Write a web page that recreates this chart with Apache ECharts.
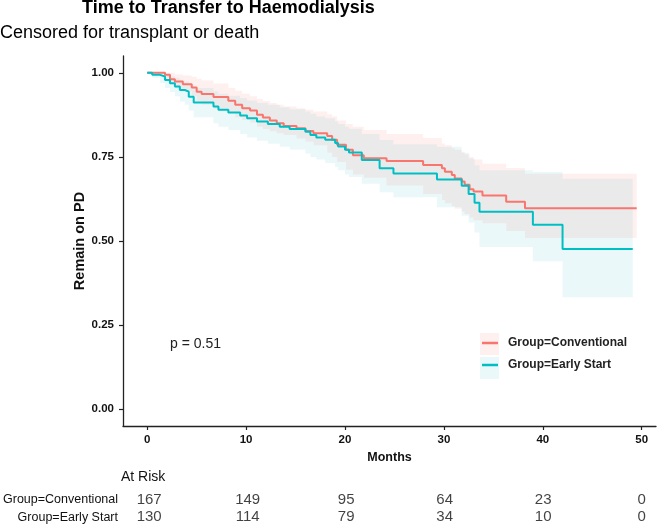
<!DOCTYPE html>
<html><head><meta charset="utf-8">
<script src="https://cdn.jsdelivr.net/npm/echarts@6/dist/echarts.min.js"></script>
<style>html,body{margin:0;padding:0;background:#fff}#c{width:664px;height:526px}</style>
</head><body><div id="c"></div>
<script>
// Conventional group: KM step times, survival, CI lower/upper
const convTime  = [0, 1.8, 2.3, 2.8, 3.6, 4.5, 5.0, 5.5, 6.7, 8.2, 8.9, 9.6, 10.4, 11.1, 11.7, 12.4, 13.1, 13.8, 15.1, 16.0, 16.8, 18.2, 18.7, 19.2, 20.1, 20.8, 21.9, 24.2, 27.9, 29.8, 30.1, 30.8, 31.1, 31.8, 32.1, 32.6, 33.0, 33.9, 36.3, 38.2, 49.5];
const convSurv  = [1, .994, .981, .974, .966, .956, .944, .937, .928, .917, .905, .895, .888, .875, .867, .858, .850, .842, .835, .827, .820, .812, .801, .786, .771, .755, .746, .738, .726, .716, .706, .696, .686, .677, .667, .654, .647, .635, .617, .597, .597];
const convLower = [1, .985, .965, .955, .945, .930, .915, .905, .893, .880, .868, .860, .852, .840, .833, .826, .820, .815, .805, .795, .785, .762, .750, .735, .712, .698, .688, .665, .640, .622, .612, .604, .596, .588, .580, .570, .562, .553, .530, .509, .509];
const convUpper = [1, 1, 1, .995, .992, .988, .982, .977, .968, .955, .947, .938, .930, .922, .916, .910, .905, .900, .895, .890, .885, .877, .870, .858, .848, .840, .830, .818, .806, .790, .785, .776, .771, .765, .758, .750, .742, .730, .717, .700, .700];

// Early Start group
const earlyTime  = [0, 0.5, 1.3, 1.8, 2.3, 2.8, 3.3, 3.8, 4.2, 4.7, 6.7, 7.2, 8.2, 9.4, 10.1, 11.1, 12.2, 13.4, 14.4, 16.0, 16.5, 17.1, 18.0, 19.0, 19.3, 20.0, 20.4, 21.7, 23.5, 24.9, 29.3, 31.8, 32.5, 33.1, 33.6, 39.0, 42.0, 49.1];
const earlySurv  = [1, .994, .989, .979, .969, .959, .949, .944, .929, .912, .900, .890, .882, .873, .865, .855, .848, .840, .833, .825, .815, .808, .801, .791, .781, .771, .763, .741, .716, .701, .683, .664, .640, .614, .587, .548, .476, .476];
const earlyLower = [1, .985, .970, .955, .943, .930, .915, .905, .888, .868, .850, .840, .830, .818, .808, .798, .789, .780, .772, .760, .750, .742, .732, .720, .710, .698, .690, .670, .645, .630, .600, .575, .555, .525, .482, .440, .333, .333];
const earlyUpper = [1, 1, 1, .995, .990, .985, .978, .975, .965, .955, .945, .938, .932, .925, .918, .910, .905, .898, .892, .885, .878, .870, .865, .856, .848, .840, .834, .818, .800, .788, .780, .762, .745, .725, .710, .705, .685, .685];

const xTicks = [0, 10, 20, 30, 40, 50];
const yTicks = [0, 0.25, 0.5, 0.75, 1];
const riskGroups = ['Group=Conventional', 'Group=Early Start'];
const riskTimes = [0, 10, 20, 30, 40, 50];
const riskConv  = [167, 149, 95, 64, 23, 0];
const riskEarly = [130, 114, 79, 34, 10, 0];

const RED = '#F8766D', TEAL = '#00BFC4';
const FONT = "'Liberation Sans', Arial, sans-serif";

function bandSeries(times, lo, hi, fill) {
  return {
    type: 'custom', silent: true, z: 1, xAxisIndex: 0, yAxisIndex: 0,
    data: times.map((t, i) => [t, lo[i], hi[i]]),
    encode: { x: 0, y: [1, 2] },
    renderItem: function (params, api) {
      if (params.dataIndex !== 0) return null;
      const pts = [];
      const n = times.length;
      for (let i = 0; i < n; i++) {
        const t2 = i < n - 1 ? times[i + 1] : times[i];
        pts.push(api.coord([times[i], hi[i]]), api.coord([t2, hi[i]]));
      }
      for (let i = n - 1; i >= 0; i--) {
        const t2 = i < n - 1 ? times[i + 1] : times[i];
        pts.push(api.coord([t2, lo[i]]), api.coord([times[i], lo[i]]));
      }
      return { type: 'polygon', shape: { points: pts }, style: { fill: fill } };
    }
  };
}

const chart = echarts.init(document.getElementById('c'), null, { renderer: 'canvas' });
chart.setOption({
  animation: false,
  backgroundColor: '#fff',
  textStyle: { fontFamily: FONT },
  title: [
    { text: 'Time to Transfer to Haemodialysis', left: 82, top: -1, padding: 0,
      textStyle: { fontSize: 18, fontWeight: 'bold', color: '#000', fontFamily: FONT } },
    { text: 'Censored for transplant or death', left: 0, top: 24, padding: 0,
      textStyle: { fontSize: 18, fontWeight: 'normal', color: '#000', fontFamily: FONT } },
    { text: 'At Risk', left: 121, top: 470, padding: 0,
      textStyle: { fontSize: 14, fontWeight: 'normal', color: '#111', fontFamily: FONT } }
  ],
  grid: [
    { left: 123, right: 8, top: 56, bottom: 100 },
    { left: 123, right: 8, top: 491, height: 36 }
  ],
  xAxis: [
    { type: 'value', gridIndex: 0, min: -2.45, max: 51.45,
      axisLine: { show: true, onZero: false, lineStyle: { color: '#222', width: 1.3 } },
      axisTick: { show: true, customValues: xTicks, length: 4, lineStyle: { color: '#222', width: 1.2 } },
      axisLabel: { customValues: xTicks, fontSize: 11.5, fontWeight: 'bold', color: '#111', margin: 8 },
      splitLine: { show: false },
      name: 'Months', nameLocation: 'middle', nameGap: 21,
      nameTextStyle: { fontSize: 12.5, fontWeight: 'bold', color: '#111' } },
    { type: 'value', gridIndex: 1, min: -2.45, max: 51.45, show: false }
  ],
  yAxis: [
    { type: 'value', gridIndex: 0, min: -0.05, max: 1.05,
      axisLine: { show: true, onZero: false, lineStyle: { color: '#222', width: 1.3 } },
      axisTick: { show: true, customValues: yTicks, length: 4, lineStyle: { color: '#222', width: 1.2 } },
      axisLabel: { customValues: yTicks, fontSize: 11.5, fontWeight: 'bold', color: '#111', margin: 9,
        formatter: v => v.toFixed(2) },
      splitLine: { show: false },
      name: 'Remain on PD', nameLocation: 'middle', nameGap: 36, nameMoveOverlap: false,
      nameTextStyle: { fontSize: 14.5, fontWeight: 'bold', color: '#111' } },
    { type: 'category', gridIndex: 1, data: riskGroups, inverse: true,
      axisLine: { show: false, onZero: false }, axisTick: { show: false }, splitLine: { show: false },
      axisLabel: { fontSize: 12.5, color: '#111', margin: 7 } }
  ],
  legend: {
    data: ['Group=Conventional', 'Group=Early Start'],
    orient: 'vertical', left: 482, top: 337, itemWidth: 16, itemHeight: 2.5, itemGap: 10,
    icon: 'rect', padding: 0,
    textStyle: { fontSize: 12, fontWeight: 'bold', color: '#222', padding: [0, 0, 0, 5] }
  },
  graphic: [
    { type: 'rect', z: -1, shape: { x: 480, y: 333, width: 19, height: 22 }, style: { fill: '#fff0f0' } },
    { type: 'rect', z: -1, shape: { x: 480, y: 357, width: 19, height: 22 }, style: { fill: '#ebf8f9' } },
    { type: 'text', left: 170, top: 337, style: { text: 'p = 0.51', font: '14px ' + FONT, fill: '#222' } }
  ],
  series: [
    bandSeries(convTime, convLower, convUpper, 'rgba(255,105,105,0.1)'),
    bandSeries(earlyTime, earlyLower, earlyUpper, 'rgba(55,185,195,0.1)'),
    { type: 'line', name: 'Group=Conventional', step: 'end', showSymbol: false, z: 3,
      data: convTime.map((t, i) => [t, convSurv[i]]),
      itemStyle: { color: RED }, lineStyle: { color: RED, width: 2 } },
    { type: 'line', name: 'Group=Early Start', step: 'end', showSymbol: false, z: 4,
      data: earlyTime.map((t, i) => [t, earlySurv[i]]),
      itemStyle: { color: TEAL }, lineStyle: { color: TEAL, width: 2 } },
    { type: 'scatter', xAxisIndex: 1, yAxisIndex: 1, symbolSize: 0, silent: true,
      data: riskTimes.map((t, i) => [t, 0, riskConv[i]]).concat(riskTimes.map((t, i) => [t, 1, riskEarly[i]])),
      encode: { x: 0, y: 1 },
      label: { show: true, position: 'inside', formatter: p => String(p.value[2]),
        fontSize: 15, color: '#111' } }
  ]
});
</script></body></html>
